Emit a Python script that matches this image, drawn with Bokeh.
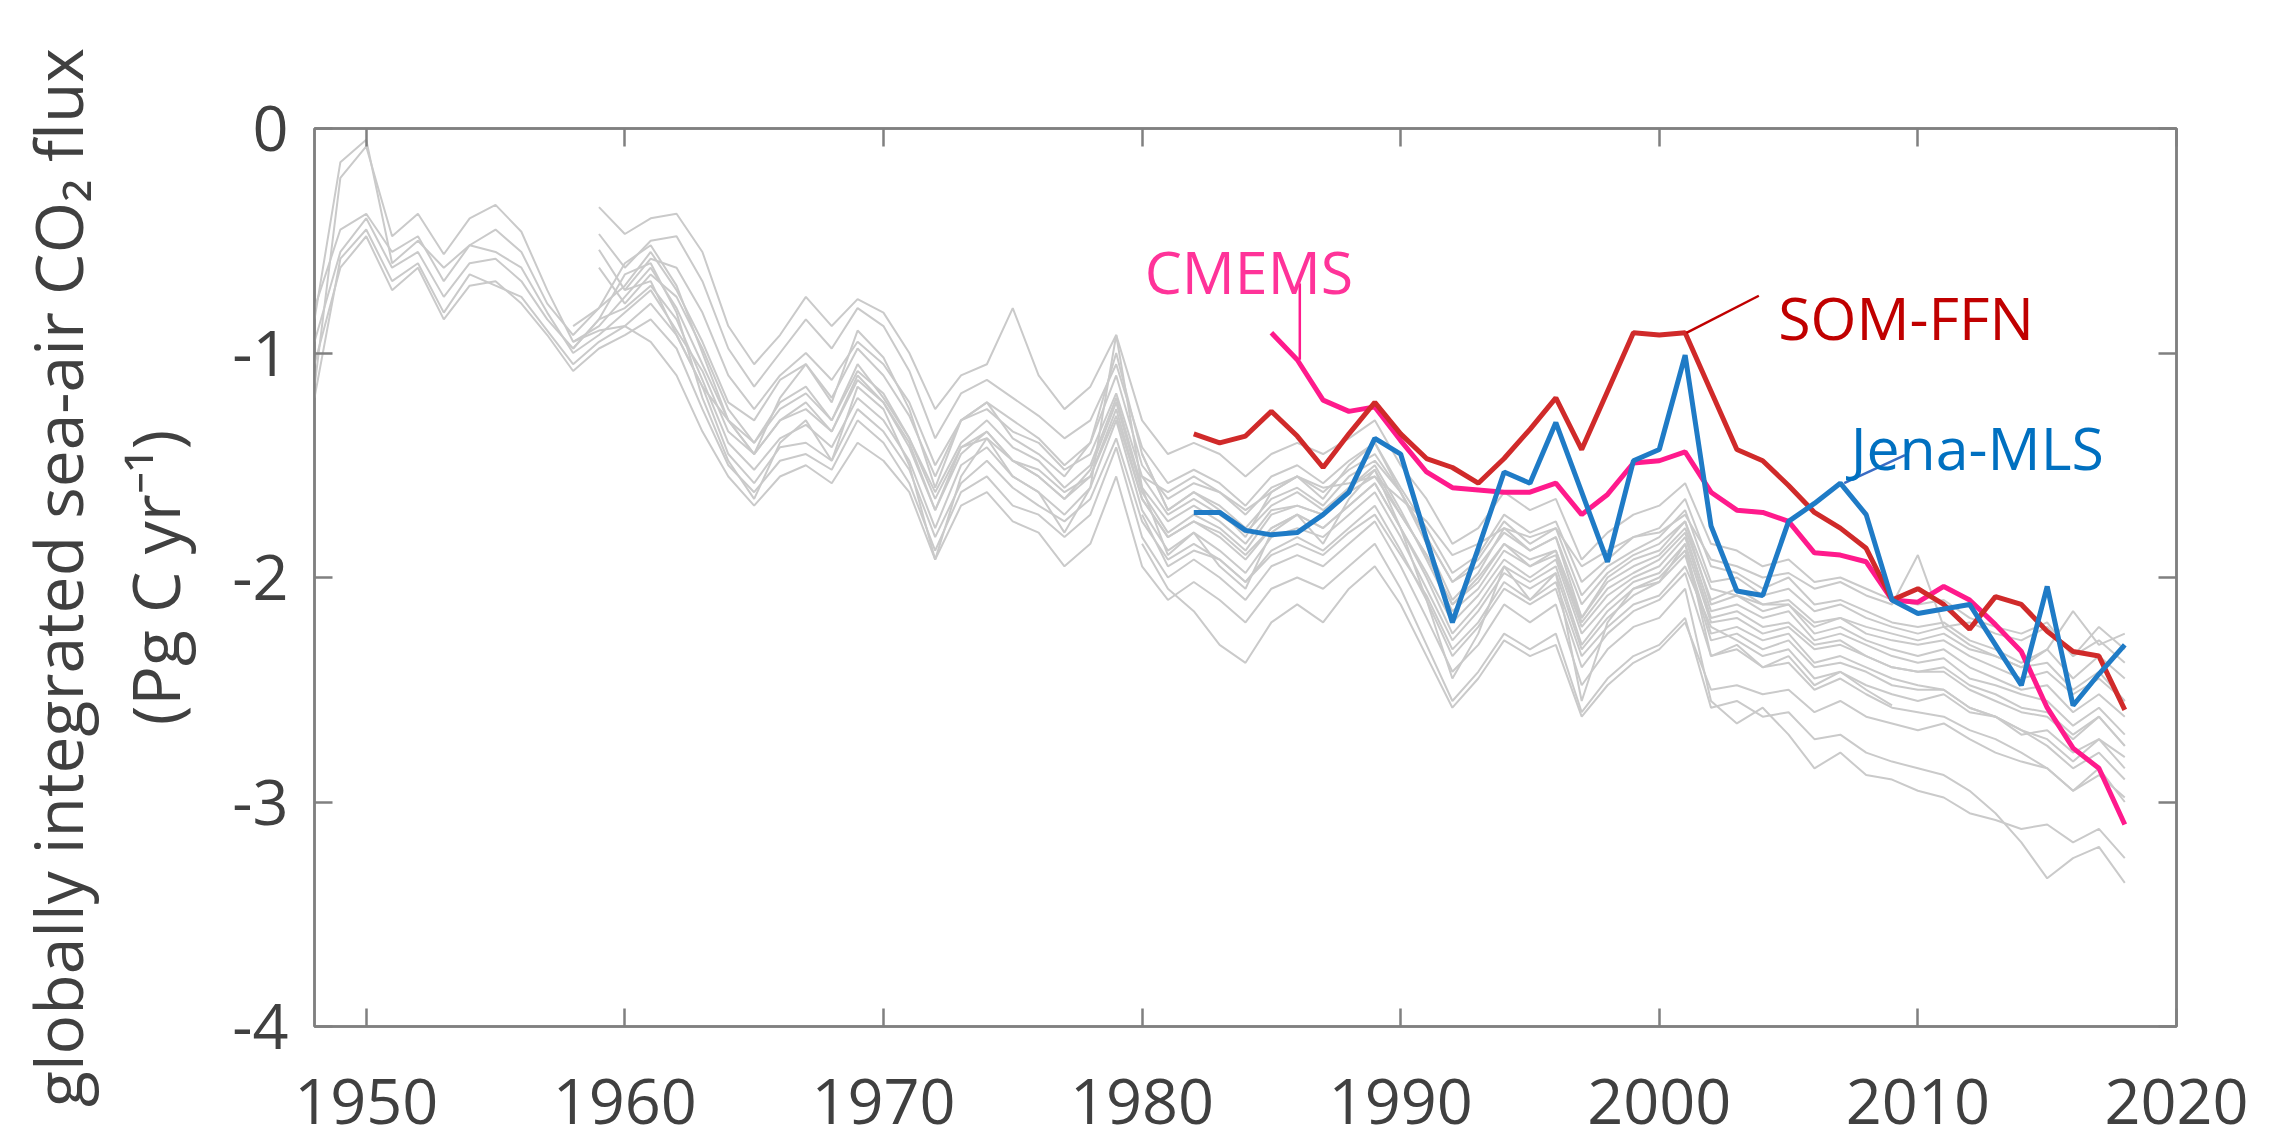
from bokeh.plotting import figure
from bokeh.models import Range1d, FixedTicker, LinearAxis, Label, CustomJSTickFormatter
from bokeh.embed import file_html
from bokeh.resources import INLINE

# ---------------- data ----------------
x_ticks = [1950, 1960, 1970, 1980, 1990, 2000, 2010, 2020]
y_ticks = [-4, -3, -2, -1, 0]

som_ffn_start = 1982
som_ffn = [-1.36, -1.40, -1.37, -1.26, -1.37, -1.51, -1.36, -1.22, -1.36, -1.47,
           -1.51, -1.58, -1.47, -1.34, -1.20, -1.43, -1.17, -0.91, -0.92, -0.91,
           -1.17, -1.43, -1.48, -1.59, -1.71, -1.78, -1.87, -2.10, -2.05, -2.12,
           -2.23, -2.085, -2.12, -2.24, -2.33, -2.35, -2.59]

jena_start = 1982
jena_mls = [-1.71, -1.71, -1.79, -1.81, -1.80, -1.72, -1.62, -1.38, -1.45, -1.83,
            -2.20, -1.87, -1.53, -1.58, -1.31, -1.62, -1.93, -1.48, -1.43, -1.01,
            -1.77, -2.06, -2.08, -1.75, -1.67, -1.58, -1.72, -2.10, -2.16, -2.14,
            -2.12, -2.30, -2.48, -2.04, -2.57, -2.43, -2.30]

cmems_start = 1985
cmems = [-0.91, -1.03, -1.21, -1.26, -1.24, -1.39, -1.53, -1.60, -1.61, -1.62,
         -1.62, -1.58, -1.72, -1.63, -1.49, -1.48, -1.44, -1.62, -1.70, -1.71,
         -1.75, -1.89, -1.90, -1.93, -2.10, -2.11, -2.04, -2.10, -2.21, -2.33,
         -2.58, -2.76, -2.85, -3.10]

gray_01_start = 1948
gray_01 = [-1.15, -0.22, -0.08, -0.48, -0.38, -0.56, -0.40, -0.34, -0.46, -0.72,
           -0.95, -0.88, -0.75, -0.62, -0.80, -1.05, -1.30, -1.40, -1.22, -1.15,
           -1.30, -1.05, -1.20, -1.38, -1.62, -1.40, -1.30, -1.42, -1.48, -1.60,
           -1.50, -1.20, -1.60, -1.75, -1.68, -1.75, -1.85, -1.70, -1.68, -1.72,
           -1.60, -1.52, -1.72, -1.90, -2.12, -2.02, -1.85, -1.95, -1.88, -2.20,
           -2.05, -1.98, -1.92, -1.80, -2.15, -2.12, -2.18, -2.15, -2.28, -2.25,
           -2.30, -2.35, -2.38, -2.36, -2.45, -2.48, -2.52, -2.55, -2.66, -2.58,
           -2.70]

gray_02_start = 1948
gray_02 = [-0.85, -0.15, -0.05, -0.60, -0.50, -0.62, -0.52, -0.45, -0.55, -0.78,
           -0.92, -0.80, -0.70, -0.55, -0.72, -0.95, -1.22, -1.30, -1.12, -1.05,
           -1.20, -0.98, -1.10, -1.28, -1.55, -1.30, -1.22, -1.30, -1.38, -1.50,
           -1.40, -1.10, -1.50, -1.65, -1.58, -1.62, -1.72, -1.60, -1.55, -1.62,
           -1.52, -1.45, -1.62, -1.82, -2.02, -1.92, -1.75, -1.85, -1.78, -2.08,
           -1.95, -1.88, -1.82, -1.70, -2.02, -2.00, -2.08, -2.05, -2.15, -2.12,
           -2.18, -2.22, -2.25, -2.22, -2.30, -2.35, -2.40, -2.38, -2.50, -2.42,
           -2.55]

gray_03_start = 1948
gray_03 = [-0.95, -0.55, -0.40, -0.62, -0.55, -0.75, -0.60, -0.58, -0.68, -0.85,
           -0.98, -0.85, -0.80, -0.70, -0.85, -1.12, -1.40, -1.52, -1.38, -1.32,
           -1.42, -1.20, -1.30, -1.48, -1.78, -1.50, -1.42, -1.55, -1.62, -1.72,
           -1.60, -1.30, -1.70, -1.88, -1.80, -1.88, -1.98, -1.82, -1.78, -1.82,
           -1.72, -1.62, -1.82, -2.05, -2.28, -2.15, -1.98, -2.05, -1.98, -2.32,
           -2.18, -2.08, -2.02, -1.90, -2.28, -2.25, -2.32, -2.28, -2.40, -2.38,
           -2.42, -2.48, -2.50, -2.50, -2.58, -2.62, -2.68, -2.72, -2.82, -2.72,
           -2.85]

gray_04_start = 1948
gray_04 = [-1.05, -0.62, -0.48, -0.72, -0.62, -0.85, -0.70, -0.68, -0.78, -0.92,
           -1.08, -0.98, -0.92, -0.85, -0.98, -1.25, -1.50, -1.62, -1.48, -1.45,
           -1.52, -1.30, -1.40, -1.58, -1.88, -1.62, -1.55, -1.68, -1.72, -1.82,
           -1.72, -1.42, -1.82, -2.00, -1.92, -2.00, -2.10, -1.95, -1.90, -1.95,
           -1.85, -1.75, -1.95, -2.18, -2.42, -2.30, -2.12, -2.20, -2.12, -2.48,
           -2.32, -2.22, -2.18, -2.05, -2.55, -2.65, -2.58, -2.70, -2.85, -2.78,
           -2.88, -2.90, -2.95, -2.98, -3.05, -3.08, -3.12, -3.10, -3.18, -3.12,
           -3.25]

gray_05_start = 1948
gray_05 = [-0.80, -0.45, -0.38, -0.55, -0.48, -0.68, -0.52, -0.55, -0.62, -0.82,
           -1.00, -0.92, -0.82, -0.72, -0.90, -1.08, -1.35, -1.45, -1.30, -1.25,
           -1.35, -1.12, -1.22, -1.42, -1.70, -1.45, -1.35, -1.48, -1.55, -1.65,
           -1.55, -1.25, -1.65, -1.82, -1.75, -1.80, -1.90, -1.78, -1.72, -1.78,
           -1.68, -1.58, -1.78, -1.98, -2.20, -2.08, -1.92, -2.00, -1.92, -2.25,
           -2.12, -2.02, -1.98, -1.85, -2.20, -2.18, -2.25, -2.22, -2.32, -2.30,
           -2.35, -2.40, -2.42, -2.40, -2.48, -2.52, -2.58, -2.60, -2.70, -2.62,
           -2.75]

gray_06_start = 1959
gray_06 = [-0.35, -0.47, -0.40, -0.38, -0.55, -0.88, -1.05, -0.92, -0.75, -0.88,
           -0.76, -0.82, -1.00, -1.25, -1.10, -1.05, -0.80, -1.10, -1.25, -1.15,
           -0.92, -1.30, -1.45, -1.40, -1.45, -1.55, -1.45, -1.40, -1.45, -1.38,
           -1.30, -1.50, -1.65, -1.85, -1.78, -1.62, -1.70, -1.65, -1.92, -1.80,
           -1.72, -1.68, -1.58, -1.85, -1.88, -1.95, -1.92, -2.02, -2.00, -2.05,
           -2.10, -2.12, -2.10, -2.18, -2.22, -2.25, -2.20, -2.35, -2.22, -2.32]

gray_07_start = 1959
gray_07 = [-0.47, -0.62, -0.50, -0.48, -0.68, -0.98, -1.15, -1.00, -0.85, -0.98,
           -0.80, -0.88, -1.08, -1.38, -1.18, -1.12, -1.20, -1.28, -1.38, -1.30,
           -1.05, -1.42, -1.58, -1.52, -1.58, -1.68, -1.55, -1.50, -1.58, -1.48,
           -1.40, -1.60, -1.78, -1.98, -1.90, -1.72, -1.80, -1.75, -2.02, -1.92,
           -1.82, -1.78, -1.65, -1.95, -1.98, -2.05, -2.00, -2.12, -2.10, -2.15,
           -2.20, -2.22, -2.20, -2.28, -2.32, -2.38, -2.32, -2.45, -2.35, -2.45]

gray_08_start = 1959
gray_08 = [-0.54, -0.72, -0.58, -0.62, -0.82, -1.10, -1.25, -1.10, -1.00, -1.12,
           -0.95, -1.05, -1.22, -1.50, -1.30, -1.25, -1.35, -1.40, -1.52, -1.45,
           -1.18, -1.55, -1.72, -1.65, -1.72, -1.80, -1.68, -1.62, -1.70, -1.60,
           -1.50, -1.70, -1.92, -2.15, -2.05, -1.88, -1.95, -1.90, -2.22, -2.08,
           -2.00, -1.95, -1.82, -2.18, -2.15, -2.22, -2.20, -2.30, -2.28, -2.35,
           -2.40, -2.42, -2.42, -2.50, -2.55, -2.60, -2.62, -2.72, -2.62, -2.75]

gray_09_start = 1959
gray_09 = [-0.62, -0.78, -0.65, -0.75, -0.98, -1.25, -1.40, -1.25, -1.18, -1.30,
           -1.08, -1.18, -1.38, -1.65, -1.42, -1.35, -1.48, -1.52, -1.62, -1.55,
           -1.28, -1.65, -1.82, -1.75, -1.82, -1.92, -1.78, -1.72, -1.78, -1.68,
           -1.58, -1.78, -2.00, -2.25, -2.12, -1.95, -2.02, -1.95, -2.30, -2.15,
           -2.05, -2.00, -1.88, -2.25, -2.22, -2.28, -2.25, -2.38, -2.35, -2.40,
           -2.45, -2.48, -2.50, -2.58, -2.62, -2.68, -2.75, -2.85, -2.78, -2.90]

gray_10_start = 1958
gray_10 = [-0.95,
           -0.90, -0.88, -0.95, -1.10, -1.35, -1.55, -1.68, -1.55, -1.50, -1.58,
           -1.40, -1.48, -1.62, -1.92, -1.68, -1.62, -1.75, -1.80, -1.95, -1.85,
           -1.55, -1.95, -2.10, -2.02, -2.10, -2.20, -2.05, -2.00, -2.05, -1.95,
           -1.85, -2.05, -2.30, -2.55, -2.42, -2.25, -2.32, -2.25, -2.60, -2.45,
           -2.35, -2.30, -2.18, -2.58, -2.55, -2.62, -2.60, -2.72, -2.70, -2.78,
           -2.82, -2.85, -2.88, -2.95, -3.05, -3.18, -3.34, -3.25, -3.20, -3.36]

gray_11_start = 1980
gray_11 = [-1.85, -2.05, -2.15, -2.30, -2.38, -2.20, -2.12, -2.20, -2.05, -1.95,
           -2.12, -2.35, -2.58, -2.45, -2.28, -2.35, -2.30, -2.62, -2.48, -2.38,
           -2.32, -2.20, -2.50, -2.48, -2.52, -2.50, -2.60, -2.55, -2.62, -2.65,
           -2.68, -2.65, -2.72, -2.78, -2.82, -2.85, -2.95, -2.88, -2.98]

gray_12_start = 1980
gray_12 = [-1.55, -1.62, -1.55, -1.62, -1.70, -1.62, -1.55, -1.60, -1.58, -1.55,
           -1.65, -1.75, -1.90, -1.85, -1.78, -1.82, -1.78, -1.95, -1.88, -1.82,
           -1.80, -1.72, -1.92, -1.95, -2.00, -1.98, -2.05, -2.02, -2.08, -2.12,
           -1.90, -2.22, -2.20, -2.25, -2.28, -2.22, -2.35, -2.28, -2.38]

gray_13_start = 1958
gray_13 = [-0.98, -0.85, -0.65, -0.60, -0.82, -1.20, -1.48, -1.65, -1.40, -1.30,
           -1.48, -1.15, -1.25, -1.50, -1.92, -1.55, -1.38, -1.55, -1.62, -1.80,
           -1.60, -0.92, -1.60, -1.90, -1.80, -1.95, -2.05, -1.80, -1.72, -1.85,
           -1.65, -1.52, -1.78, -2.10, -2.45, -2.25, -1.95, -2.10, -1.98, -2.55,
           -2.20, -2.05, -2.02, -1.85, -2.35, -2.30, -2.40, -2.35, -2.48, -2.42,
           -2.50, -2.57]

gray_14_start = 1948
gray_14 = [-1.20, -0.58, -0.45, -0.68, -0.60, -0.82, -0.65, -0.70, -0.75, -0.90,
           -1.05, -0.95, -0.88, -0.78, -0.92, -1.15, -1.45, -1.58, -1.42, -1.40,
           -1.48, -1.25, -1.35, -1.52, -1.82, -1.58, -1.48, -1.60, -1.68, -1.75,
           -1.65, -1.38, -1.75, -1.92, -1.85, -1.92, -2.02, -1.88, -1.82, -1.88,
           -1.78, -1.68, -1.88, -2.10, -2.35, -2.22, -2.05, -2.12, -2.05, -2.40,
           -2.25, -2.15, -2.10, -1.98, -2.35, -2.32, -2.40, -2.38, -2.50, -2.45,
           -2.52, -2.58, -2.60, -2.62, -2.68, -2.72, -2.78, -2.85, -2.95, -2.85,
           -3.00]

gray_15_start = 1960
gray_15 = [-0.72, -0.68, -0.92, -1.15, -1.30, -1.45, -1.30, -1.22, -1.35, -1.10,
           -1.22, -1.40, -1.70, -1.42, -1.38, -1.48, -1.55, -1.65, -1.52, -1.22,
           -1.62, -1.80, -1.72, -1.78, -1.88, -1.72, -1.68, -1.72, -1.62, -1.55,
           -1.72, -1.90, -2.12, -2.00, -1.85, -1.92, -1.88, -2.18, -2.02, -1.95,
           -1.90, -1.78, -2.10, -2.05, -2.12, -2.10, -2.20, -2.18, -2.22, -2.25,
           -2.28, -2.25, -2.32, -2.35, -2.40, -2.32, -2.15, -2.30, -2.25]

gray_16_start = 1980
gray_16 = [-1.72, -1.95, -1.88, -1.92, -2.02, -1.90, -1.85, -1.90, -1.80, -1.72,
           -1.90, -2.08, -2.32, -2.20, -2.02, -2.10, -2.02, -2.35, -2.22, -2.12,
           -2.08, -1.95, -2.22, -2.28, -2.35, -2.32, -2.45, -2.42, -2.48, -2.52,
           -2.55, -2.52, -2.60, -2.62, -2.70, -2.68, -2.78, -2.72, -2.80]

gray_17_start = 1980
gray_17 = [-1.45, -1.70, -1.62, -1.68, -1.78, -1.65, -1.60, -1.68, -1.55, -1.48,
           -1.62, -1.82, -2.02, -1.95, -1.80, -1.88, -1.82, -2.12, -1.98, -1.90,
           -1.85, -1.75, -2.05, -2.08, -2.12, -2.12, -2.22, -2.18, -2.25, -2.28,
           -2.30, -2.28, -2.35, -2.40, -2.45, -2.42, -2.52, -2.45, -2.55]

gray_18_start = 1958
gray_18 = [-0.88,
           -0.80, -0.60, -0.52, -0.70, -1.00, -1.30, -1.45, -1.20, -1.05, -1.22,
           -0.90, -1.02, -1.25, -1.60, -1.30, -1.22, -1.38, -1.45, -1.55, -1.40,
           -1.00, -1.45, -1.70, -1.62, -1.70, -1.82, -1.62, -1.55, -1.65, -1.50,
           -1.40, -1.62, -1.85, -2.10, -1.98, -1.78, -1.88, -1.82, -2.18, -2.00,
           -1.92, -1.88, -1.75, -2.12, -2.08, -2.15, -2.12, -2.25, -2.22, -2.28,
           -2.32, -2.35, -2.32, -2.40, -2.45, -2.50, -2.48, -2.60, -2.52, -2.62]

gray_series = [
    (gray_01_start, gray_01), (gray_02_start, gray_02), (gray_03_start, gray_03),
    (gray_04_start, gray_04), (gray_05_start, gray_05), (gray_06_start, gray_06),
    (gray_07_start, gray_07), (gray_08_start, gray_08), (gray_09_start, gray_09),
    (gray_10_start, gray_10), (gray_11_start, gray_11), (gray_12_start, gray_12),
    (gray_13_start, gray_13), (gray_14_start, gray_14), (gray_15_start, gray_15),
    (gray_16_start, gray_16), (gray_17_start, gray_17), (gray_18_start, gray_18),
]

# ---------------- styles ----------------
FONT = "Open Sans"
AXIS_GRAY = "#808080"
TEXT_GRAY = "#404040"
GRAY_LINE = "#cacaca"
C_SOM = "#d02a2a"
C_SOM_TXT = "#c00000"
C_JENA = "#1f7bc6"
C_JENA_TXT = "#0070c0"
C_CMEMS = "#ff1a8c"
C_CMEMS_TXT = "#ff3399"


def years_for(start, vals):
    return list(range(start, start + len(vals)))


p = figure(width=2270, height=1144,
           x_range=Range1d(1948, 2020), y_range=Range1d(-4, 0),
           output_backend="svg", toolbar_location=None,
           min_border_left=314, min_border_right=94,
           min_border_top=128, min_border_bottom=118,
           background_fill_color="white", border_fill_color="white")
p.grid.visible = False
p.outline_line_color = AXIS_GRAY
p.outline_line_width = 2.5

# main axes
p.xaxis.ticker = FixedTicker(ticks=x_ticks)
p.yaxis.ticker = FixedTicker(ticks=y_ticks)
p.yaxis.formatter = CustomJSTickFormatter(code="return tick.toFixed(0)")
for ax in (p.xaxis[0], p.yaxis[0]):
    ax.axis_line_color = AXIS_GRAY
    ax.axis_line_width = 2.5
    ax.major_tick_line_color = AXIS_GRAY
    ax.major_tick_line_width = 2.5
    ax.major_tick_in = 18
    ax.major_tick_out = 0
    ax.minor_tick_line_color = None
    ax.major_label_text_font = FONT
    ax.major_label_text_font_size = "63px"
    ax.major_label_text_color = TEXT_GRAY
p.xaxis.major_label_standoff = 52
p.yaxis.major_label_standoff = 26

p.yaxis.axis_label = "globally integrated sea-air CO\u2082 flux\n(Pg C yr\u207b\u00b9)"
p.yaxis.axis_label_text_font = FONT
p.yaxis.axis_label_text_font_size = "66px"
p.yaxis.axis_label_text_font_style = "normal"
p.yaxis.axis_label_text_color = TEXT_GRAY
p.yaxis.axis_label_text_line_height = 1.08
p.yaxis.axis_label_standoff = 30

# mirrored axes (ticks only)
blank = CustomJSTickFormatter(code="return ''")
top_ax = LinearAxis(ticker=FixedTicker(ticks=x_ticks), formatter=blank)
right_ax = LinearAxis(ticker=FixedTicker(ticks=y_ticks), formatter=blank)
for ax in (top_ax, right_ax):
    ax.axis_line_color = AXIS_GRAY
    ax.axis_line_width = 2.5
    ax.major_tick_line_color = AXIS_GRAY
    ax.major_tick_line_width = 2.5
    ax.major_tick_in = 18
    ax.major_tick_out = 0
    ax.minor_tick_line_color = None
    ax.major_label_text_font_size = "1px"
p.add_layout(top_ax, "above")
p.add_layout(right_ax, "right")

# gray model lines
for start, vals in gray_series:
    p.line(years_for(start, vals), vals, line_color=GRAY_LINE, line_width=2)

# data products
p.line(years_for(cmems_start, cmems), cmems, line_color=C_CMEMS, line_width=5)
p.line(years_for(som_ffn_start, som_ffn), som_ffn, line_color=C_SOM, line_width=5)
p.line(years_for(jena_start, jena_mls), jena_mls, line_color=C_JENA, line_width=5)

# leader lines (label end, data end taken from the series)
cm_yr = 1986
p.line([cm_yr + 0.1, cm_yr + 0.1], [-0.69, cmems[cm_yr - cmems_start]],
       line_color=C_CMEMS, line_width=2.5)
som_yr = 2001
p.line([2003.85, som_yr + 0.05], [-0.745, som_ffn[som_yr - som_ffn_start]],
       line_color=C_SOM_TXT, line_width=2.5)
jena_yr = 2007
p.line([2009.5, jena_yr + 0.15], [-1.455, jena_mls[jena_yr - jena_start]],
       line_color="#3a6cc4", line_width=2.5)

# labels
for txt, x, y, col in [("CMEMS", 1980.1, -0.635, C_CMEMS_TXT),
                       ("SOM-FFN", 2004.6, -0.84, C_SOM_TXT),
                       ("Jena-MLS", 2007.4, -1.42, C_JENA_TXT)]:
    p.add_layout(Label(x=x, y=y, text=txt, text_font=FONT, text_font_size="59px",
                       text_color=col, text_baseline="alphabetic", text_align="left"))

open("out.html", "w").write(file_html(p, INLINE))
